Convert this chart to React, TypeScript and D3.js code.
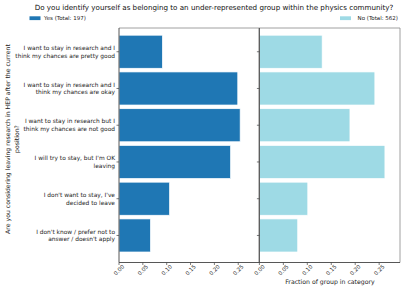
import React from "react";
import * as d3 from "d3";

const categories: string[][] = [
  ["I want to stay in research and I", "think my chances are pretty good"],
  ["I want to stay in research and I", "think my chances are okay"],
  ["I want to stay in research but I", "think my chances are not good"],
  ["I will try to stay, but I'm OK", "leaving"],
  ["I don't want to stay, I've", "decided to leave"],
  ["I don't know / prefer not to", "answer / doesn't apply"],
];
const yesValues = [0.091, 0.249, 0.254, 0.234, 0.106, 0.066];
const noValues = [0.131, 0.241, 0.189, 0.262, 0.101, 0.080];
const xTicks = [0, 0.05, 0.1, 0.15, 0.2, 0.25];
const title =
  "Do you identify yourself as belonging to an under-represented group within the physics community?";
const yesLabel = "Yes (Total: 197)";
const noLabel = "No (Total: 562)";
const yTitle = [
  "Are you considering leaving research in HEP after the current",
  "position?",
];
const xTitle = "Fraction of group in category";

const W = 407;
const H = 291;
const FONT = "DejaVu Sans, sans-serif";
const YES_C = "#1f77b4";
const NO_C = "#9edae5";

export default function App() {
  const top = 28;
  const bottom = 262.5;
  const lx0 = 119, lx1 = 259;
  const rx0 = 259.4, rx1 = 400;
  const xmax = 0.2935;
  const xl = d3.scaleLinear().domain([0, xmax]).range([lx0, lx1]);
  const xr = d3.scaleLinear().domain([0, xmax]).range([rx0, rx1]);
  const y = d3.scaleLinear().domain([-0.646, 5.736]).range([top, bottom]);
  const bh = Math.abs(y(0.45) - y(-0.45));
  const fmt = d3.format(".2f");

  const bars = (vals: number[], x: d3.ScaleLinear<number, number>, color: string) =>
    vals.map((v, i) => (
      <rect
        key={i}
        x={x(0)}
        y={y(i) - bh / 2}
        width={x(v) - x(0)}
        height={bh}
        fill={color}
        stroke="#ffffff"
        strokeWidth={0.7}
      />
    ));

  const ticks = (x: d3.ScaleLinear<number, number>) =>
    xTicks.map((t, i) => (
      <g key={i}>
        <line x1={x(t)} x2={x(t)} y1={bottom} y2={bottom + 2.5} stroke="#444" strokeWidth={0.7} />
        <text
          transform={`translate(${x(t)},${bottom + 7.5}) rotate(-45)`}
          textAnchor="middle"
          dominantBaseline="central"
          fontSize={5.5}
          fontFamily={FONT}
          fill="#222"
        >
          {fmt(t)}
        </text>
      </g>
    ));

  return (
    <svg width={W} height={H} style={{ position: "absolute", left: 0, top: 0 }}>
      <rect x={0} y={0} width={W} height={H} fill="#fff" />
      <text x={214} y={10} textAnchor="middle" fontSize={7.15} fontFamily={FONT} fill="#111">
        {title}
      </text>
      <rect x={29.5} y={16.3} width={11} height={3.8} fill={YES_C} />
      <text x={44} y={20} fontSize={5.5} fontFamily={FONT} fill="#222">
        {yesLabel}
      </text>
      <rect x={340} y={16.3} width={11} height={3.8} fill={NO_C} />
      <text x={398} y={20} textAnchor="end" fontSize={5.5} fontFamily={FONT} fill="#222">
        {noLabel}
      </text>

      {bars(yesValues, xl, YES_C)}
      {bars(noValues, xr, NO_C)}

      {/* spines */}
      <line x1={lx0} x2={rx1} y1={top} y2={top} stroke="#888" strokeWidth={0.8} />
      <line x1={rx1} x2={rx1} y1={top} y2={bottom} stroke="#888" strokeWidth={0.8} />
      <line x1={lx1} x2={lx1} y1={top} y2={bottom} stroke="#888" strokeWidth={0.8} />
      <line x1={lx0} x2={lx0} y1={top} y2={bottom} stroke="#444" strokeWidth={0.9} />
      <line x1={rx0} x2={rx0} y1={top} y2={bottom} stroke="#444" strokeWidth={0.9} />
      <line x1={lx0} x2={rx1} y1={bottom} y2={bottom} stroke="#444" strokeWidth={0.9} />

      {categories.map((c, i) => (
        <g key={i}>
          <line x1={lx0 - 2.5} x2={lx0} y1={y(i)} y2={y(i)} stroke="#444" strokeWidth={0.7} />
          <line x1={rx0 - 2.5} x2={rx0} y1={y(i)} y2={y(i)} stroke="#444" strokeWidth={0.7} />
          {c.map((line, j) => (
            <text
              key={j}
              x={115}
              y={y(i) + (j - (c.length - 1) / 2) * 7.6}
              textAnchor="end"
              dominantBaseline="central"
              fontSize={5.9}
              fontFamily={FONT}
              fill="#222"
            >
              {line}
            </text>
          ))}
        </g>
      ))}

      {ticks(xl)}
      {ticks(xr)}

      <text x={330} y={284} textAnchor="middle" fontSize={6.2} fontFamily={FONT} fill="#222">
        {xTitle}
      </text>
      {yTitle.map((t, j) => (
        <text
          key={j}
          transform={`translate(${7.5 + j * 9},139) rotate(-90)`}
          textAnchor="middle"
          dominantBaseline="central"
          fontSize={6.2}
          fontFamily={FONT}
          fill="#222"
        >
          {t}
        </text>
      ))}
    </svg>
  );
}
